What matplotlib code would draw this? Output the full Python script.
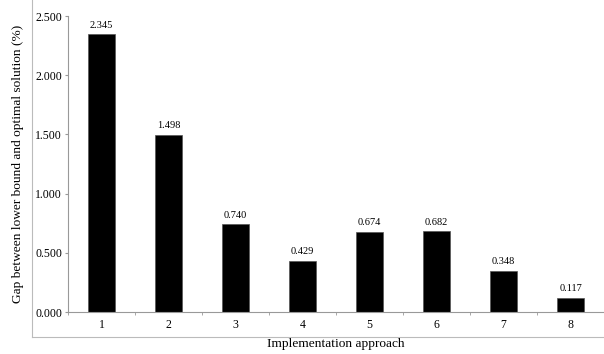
import matplotlib
matplotlib.use('Agg')
import matplotlib.pyplot as plt
from matplotlib.lines import Line2D
import numpy as np

approaches = ['1', '2', '3', '4', '5', '6', '7', '8']
gaps = [2.345, 1.498, 0.740, 0.429, 0.674, 0.682, 0.348, 0.117]

plt.rcParams['font.family'] = ['Liberation Serif', 'DejaVu Serif']

fig = plt.figure(figsize=(6.04, 3.54), dpi=100)
ax = fig.add_axes([0.1126, 0.1186, 0.8874, 0.8362])

x = np.arange(len(approaches))
ax.bar(x, gaps, width=0.4, color='black', edgecolor='#555555', linewidth=0.5)
for xi, v in zip(x, gaps):
    ax.text(xi, v + 0.04, '%.3f' % v, ha='center', va='bottom', fontsize=7.5)

ticks = np.arange(0, 2.51, 0.5)
ax.set_xlim(-0.5, 7.5)
ax.set_ylim(0, 2.5)
ax.set_yticks(ticks)
ax.set_yticklabels(['%.3f' % t for t in ticks], fontsize=8.5)
ax.set_xticks(x)
ax.set_xticklabels(approaches, fontsize=8.5)
ax.set_xticks(np.arange(-0.5, 8, 1), minor=True)
ax.tick_params(axis='x', which='major', length=0, pad=5)
ax.tick_params(axis='x', which='minor', length=2.5, color='#999999')
ax.tick_params(axis='y', length=2.2, color='#999999', pad=2.2)

for s in ['top', 'right']:
    ax.spines[s].set_visible(False)
for s in ['left', 'bottom']:
    ax.spines[s].set_color('#999999')
    ax.spines[s].set_linewidth(0.8)

ax.set_ylabel('Gap between lower bound and optimal solution (%)', fontsize=9.6)
ax.set_xlabel('Implementation approach', fontsize=9.6, labelpad=5)
ax.yaxis.set_label_coords(-0.082, 0.5)

# outer chart frame (left and bottom edges visible)
fig.add_artist(Line2D([0.053, 0.053], [0.048, 1.0], color='#bbbbbb', linewidth=0.8, transform=fig.transFigure))
fig.add_artist(Line2D([0.053, 1.0], [0.048, 0.048], color='#bbbbbb', linewidth=0.8, transform=fig.transFigure))

fig.savefig('out.png', dpi=100)
